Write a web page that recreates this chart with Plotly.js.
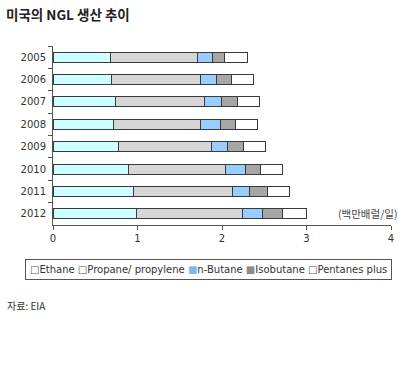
<!DOCTYPE html>
<html><head><meta charset="utf-8">
<script src="https://cdn.plot.ly/plotly-3.0.1.min.js"></script>
<style>html,body{margin:0;padding:0;background:#fff;}#chart{width:404px;height:370px;}</style>
</head><body><div id="chart"></div>
<script>
const years = ['2005','2006','2007','2008','2009','2010','2011','2012'];
const ethane    = [0.68, 0.69, 0.74, 0.72, 0.78, 0.89, 0.95, 0.99];
const propane   = [1.03, 1.05, 1.05, 1.03, 1.09, 1.15, 1.17, 1.25];
const nbutane   = [0.18, 0.20, 0.20, 0.23, 0.19, 0.24, 0.21, 0.24];
const isobutane = [0.14, 0.17, 0.19, 0.18, 0.20, 0.17, 0.21, 0.24];
const pentanes  = [0.27, 0.26, 0.26, 0.26, 0.26, 0.27, 0.26, 0.28];
const seriesNames = ['Ethane', 'Propane/ propylene', 'n-Butane', 'Isobutane', 'Pentanes plus'];
const seriesValues = [ethane, propane, nbutane, isobutane, pentanes];
const colors = ['#ccffff', '#d6d6d6', '#99ccff', '#a6a6a6', '#ffffff'];
const legendGlyphs = ['□', '□', '■', '■', '□'];
const legendGlyphColors = ['#555', '#555', '#7fb8f0', '#8c8c8c', '#555'];
const xTicks = [0, 1, 2, 3, 4];

const traces = seriesValues.map((vals, i) => ({
  type: 'bar', orientation: 'h', name: seriesNames[i],
  y: years, x: vals,
  marker: {color: colors[i], line: {color: '#3a3a3a', width: 1}},
  showlegend: false, hoverinfo: 'x+name'
}));

const font = 'DejaVu Sans, Arial, sans-serif';
const legendText = seriesNames.map((n, i) =>
  '<span style="color:' + legendGlyphColors[i] + '">' + legendGlyphs[i] + '</span>' + n).join(' ');

const layout = {
  width: 404, height: 370,
  margin: {l: 53, r: 13, t: 46, b: 145},
  paper_bgcolor: '#fff', plot_bgcolor: '#fff',
  barmode: 'stack', bargap: 0.55,
  showlegend: false,
  font: {family: font, color: '#333', size: 10},
  xaxis: {
    range: [0, 4], tickvals: xTicks, ticktext: xTicks.map(String),
    ticks: 'outside', ticklen: 4, tickcolor: '#555',
    showline: true, linecolor: '#555', linewidth: 1,
    showgrid: false, zeroline: false, fixedrange: true,
    tickfont: {family: font, size: 10, color: '#333'}
  },
  yaxis: {
    type: 'category', autorange: 'reversed',
    tickson: 'boundaries', ticks: 'outside', ticklen: 4, tickcolor: '#555',
    showline: true, linecolor: '#555', linewidth: 1,
    showgrid: false, zeroline: false, fixedrange: true,
    tickfont: {family: font, size: 10, color: '#333'}, ticklabelstandoff: 4
  },
  annotations: [
    {xref: 'paper', yref: 'paper', x: -49/338, y: 1 + 32/179, xanchor: 'left', yanchor: 'middle',
     text: '<b>미국의 NGL 생산 추이</b>', showarrow: false,
     font: {family: 'Noto Sans CJK KR', size: 13.5, color: '#222'}},
    {xref: 'paper', yref: 'paper', x: 1 + 9/338, y: 12/179, xanchor: 'right', yanchor: 'middle',
     text: '(백만배럴/일)', showarrow: false,
     font: {family: 'Noto Sans CJK KR', size: 10.5, color: '#444'}},
    {xref: 'paper', yref: 'paper', x: -48/338, y: -80/179, xanchor: 'left', yanchor: 'middle',
     text: '자료: EIA', showarrow: false,
     font: {family: 'Noto Sans CJK KR', size: 10, color: '#333'}},
    {xref: 'paper', yref: 'paper', x: -28/338, y: -44/179, xanchor: 'left', yanchor: 'middle',
     text: legendText, showarrow: false, borderpad: 4, borderwidth: 1, bordercolor: '#555',
     font: {family: font, size: 10, color: '#333'}}
  ]
};
Plotly.newPlot('chart', traces, layout, {displayModeBar: false, staticPlot: true});
</script></body></html>
